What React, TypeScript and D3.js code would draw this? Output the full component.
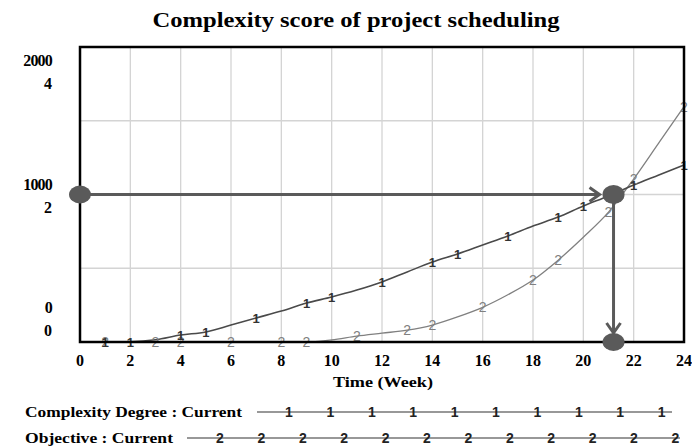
import React from "react";
import * as d3 from "d3";

const weeks = d3.range(0, 25);
const complexityDegree = [0, 0, 2, 15, 47, 68, 115, 163, 210, 264, 305, 352, 407, 475, 542, 597, 658, 719, 786, 847, 922, 990, 1064, 1132, 1200];
const objective = [0, 0, 0, 0, 0, 0, 0, 0, 0, 0, 0.03, 0.08, 0.12, 0.16, 0.23, 0.34, 0.47, 0.64, 0.84, 1.11, 1.42, 1.76, 2.21, 2.7, 3.19];
const markers1 = [1, 2, 4, 5, 7, 9, 10, 12, 14, 15, 17, 19, 20, 22, 24];
const markers2 = [1, 3, 4, 6, 8, 9, 11, 13, 14, 16, 18, 19, 21, 22, 24];
const xTicks = [0, 2, 4, 6, 8, 10, 12, 14, 16, 18, 20, 22, 24];
const yTickValues = [2000, 1000, 0];
const yTickLabels1 = ["2000", "1000", "0"];
const yTickLabels2 = ["4", "2", "0"];
const hGrid = [500, 1000, 1500];
const crossWeek = 21.2;
const crossValue = 1000;

const title = "Complexity score of project scheduling";
const xLabel = "Time (Week)";
const legendNames = ["Complexity Degree : Current", "Objective : Current"];
const legendMarks = ["1", "2"];

export default function App() {
  const W = 692, H = 446;
  const x = d3.scaleLinear().domain([0, 24]).range([80, 684]);
  const y1 = d3.scaleLinear().domain([0, 2000]).range([342, 47]);
  const y2 = d3.scaleLinear().domain([0, 4]).range([342, 47]);
  const line1 = d3.line<number>().x((_, i) => x(weeks[i])).y((d) => y1(d)).curve(d3.curveMonotoneX);
  const line2 = d3.line<number>().x((_, i) => x(weeks[i])).y((d) => y2(d)).curve(d3.curveMonotoneX);
  const serif = "'Liberation Serif', 'DejaVu Serif', serif";
  const sans = "'Liberation Sans', Arial, sans-serif";
  const arrowCol = "#5a5a5a";
  const cx = x(crossWeek), cy = y1(crossValue);
  // label baselines (pixel offsets of the two stacked labels)
  const yLabelBase = [[66, 89], [190, 213], [313, 336]];
  const legendLayout = [
    { w: 217, start: 257, end: 672, first: 289, n: 10, ly: 412 },
    { w: 148, start: 187, end: 680, first: 220, n: 12, ly: 438 },
  ];

  return (
    <svg width={W} height={H} style={{ position: "absolute", left: 0, top: 0, background: "#fff" }}>
      <text x={356} y={27} textAnchor="middle" fontFamily={serif} fontWeight="bold" fontSize={20} textLength={407} lengthAdjust="spacingAndGlyphs">{title}</text>
      {xTicks.slice(1, -1).map((t) => (
        <line key={"vg" + t} x1={x(t)} x2={x(t)} y1={y1(2000)} y2={y1(0)} stroke="#d4d4d4" strokeWidth={1.3} />
      ))}
      {hGrid.map((v) => (
        <line key={"hg" + v} x1={x(0)} x2={x(24)} y1={y1(v)} y2={y1(v)} stroke="#d4d4d4" strokeWidth={1.3} />
      ))}
      <path d={line2(objective) || ""} fill="none" stroke="#808080" strokeWidth={1.3} />
      <path d={line1(complexityDegree) || ""} fill="none" stroke="#4a4a4a" strokeWidth={1.6} />
      {markers2.map((t) => (
        <text key={"m2" + t} x={x(t)} y={y2(objective[t]) + 5} textAnchor="middle" fontFamily={sans} fontSize={14} fill="#808080">2</text>
      ))}
      {markers1.map((t) => (
        <text key={"m1" + t} x={x(t)} y={y1(complexityDegree[t]) + 5} textAnchor="middle" fontFamily={sans} fontWeight="bold" fontSize={13} fill="#333">1</text>
      ))}
      <rect x={x(0)} y={y1(2000)} width={x(24) - x(0)} height={y1(0) - y1(2000)} fill="none" stroke="#000" strokeWidth={2.5} />
      <line x1={x(0)} x2={cx - 14} y1={cy} y2={cy} stroke={arrowCol} strokeWidth={3} />
      <polyline points={`${cx - 24},${cy - 7} ${cx - 14},${cy} ${cx - 24},${cy + 7}`} fill="none" stroke={arrowCol} strokeWidth={3} />
      <line x1={cx} x2={cx} y1={cy} y2={y1(0) - 9} stroke={arrowCol} strokeWidth={3} />
      <polyline points={`${cx - 7},${y1(0) - 19} ${cx},${y1(0) - 9} ${cx + 7},${y1(0) - 19}`} fill="none" stroke={arrowCol} strokeWidth={3} />
      <ellipse cx={x(0)} cy={cy} rx={11} ry={9} fill={arrowCol} />
      <ellipse cx={cx} cy={cy} rx={11} ry={9.5} fill={arrowCol} />
      <ellipse cx={cx} cy={y1(0)} rx={11} ry={9} fill={arrowCol} />
      {xTicks.map((t) => (
        <text key={"xt" + t} x={x(t)} y={366} textAnchor="middle" fontFamily={serif} fontWeight="bold" fontSize={16}>{t}</text>
      ))}
      <text x={383} y={387} textAnchor="middle" fontFamily={serif} fontWeight="bold" fontSize={14} textLength={100} lengthAdjust="spacingAndGlyphs">{xLabel}</text>
      {yTickValues.map((v, i) => (
        <g key={"yt" + v}>
          <text x={52} y={yLabelBase[i][0]} textAnchor="end" fontFamily={serif} fontWeight="bold" fontSize={16} letterSpacing={-0.8}>{yTickLabels1[i]}</text>
          <text x={52} y={yLabelBase[i][1]} textAnchor="end" fontFamily={serif} fontWeight="bold" fontSize={16}>{yTickLabels2[i]}</text>
        </g>
      ))}
      {legendNames.map((name, i) => {
        const L = legendLayout[i];
        return (
          <g key={name}>
            <text x={25} y={L.ly + 5} fontFamily={serif} fontWeight="bold" fontSize={15} textLength={L.w} lengthAdjust="spacingAndGlyphs">{name}</text>
            <line x1={L.start} x2={L.end} y1={L.ly} y2={L.ly} stroke="#333" strokeWidth={1.2} />
            {d3.range(L.n).map((k) => (
              <text key={k} x={L.first + k * 41.4} y={L.ly + 5} textAnchor="middle" fontFamily={sans} fontWeight="bold" fontSize={14} fill="#222">{legendMarks[i]}</text>
            ))}
          </g>
        );
      })}
    </svg>
  );
}
